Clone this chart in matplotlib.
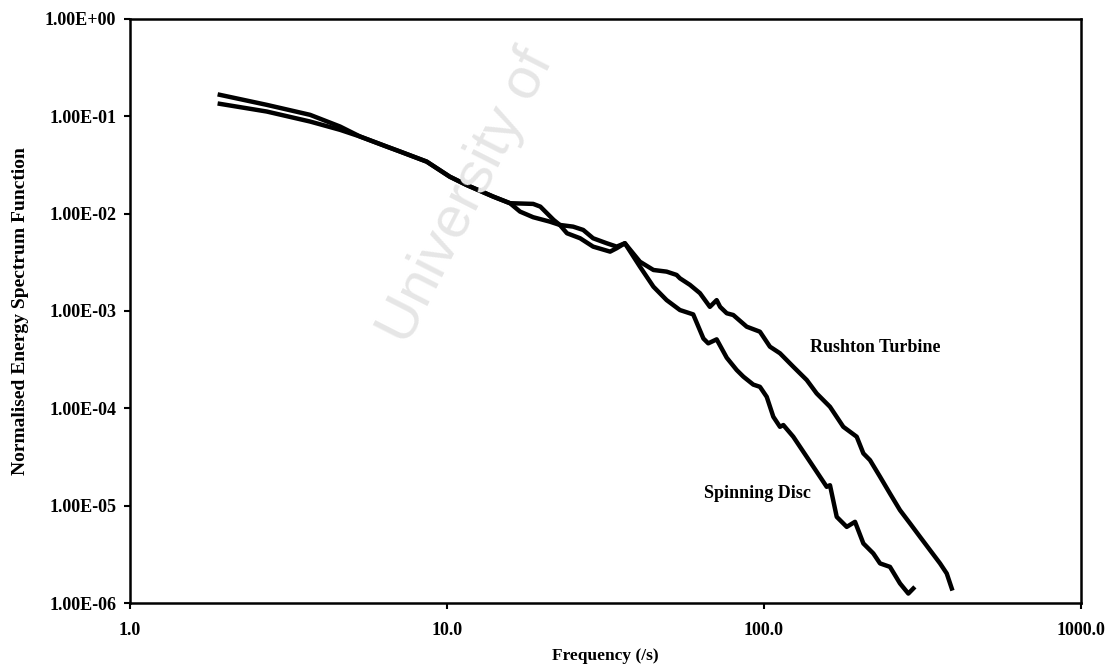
import numpy as np
import matplotlib.pyplot as plt

# values (frequency in 1/s, normalised E)
disc_freq = [1.92, 2.70, 3.70, 4.60, 5.32, 6.45, 7.11, 8.63, 10.2, 11.5, 14.0, 15.8,
             18.7, 19.7, 21.7, 22.7, 25.0, 26.9, 28.9, 31.9, 34.3, 36.4,
             40.6, 44.8, 49.3, 54.3, 59.8, 64.4, 66.7, 70.9, 76.3, 82.0, 86.1,
             92.5, 97.1, 102.0, 107.0, 112.3, 115.1, 123.7, 136.4, 146.6, 157.7,
             161.5, 169.6, 182.4, 193.7, 205.8, 221.2, 232.3, 249.7, 268.5, 285.3,
             295.8]
disc_e = [0.1656, 0.1306, 0.1031, 0.0782, 0.0617, 0.0487, 0.0433, 0.0341, 0.0239,
          0.0197, 0.0149, 0.01276, 0.01255, 0.01177, 0.00859, 0.00763, 0.00733,
          0.00678, 0.00557, 0.00495, 0.00457, 0.00495,
          0.00285, 0.00177, 0.00129, 0.00102, 0.00092, 0.00052, 0.000464,
          0.00051, 0.00033, 0.000247, 0.000211, 0.000175, 0.000166, 0.000131,
          8.18e-5, 6.45e-5, 6.72e-5, 5.10e-5, 3.17e-5, 2.23e-5, 1.56e-5, 1.62e-5,
          7.67e-6, 6.05e-6, 6.82e-6, 4.09e-6, 3.23e-6, 2.55e-6, 2.35e-6, 1.59e-6,
          1.25e-6, 1.41e-6]

rushton_freq = [1.92, 2.70, 3.70, 4.60, 5.32, 6.45, 7.11, 8.63, 10.2, 11.5, 14.0,
                15.8, 17.0, 18.7, 21.1, 22.7, 23.9, 26.3, 28.9, 32.7, 34.3, 36.4,
                40.6, 44.8, 49.3, 53.0, 54.3, 58.4, 62.8, 67.5, 70.9, 72.7, 76.3,
                80.0, 88.2, 97.1, 104.4, 112.3, 123.7, 136.4, 146.6, 161.5, 177.9,
                196.1, 205.8, 216.0, 232.3, 249.7, 268.5, 288.9, 310.6, 334.0,
                359.2, 377.1, 391.1]
rushton_e = [0.1338, 0.1115, 0.0880, 0.0723, 0.0617, 0.0487, 0.0433, 0.0341,
             0.0239, 0.0197, 0.0149, 0.01276, 0.01046, 0.00916, 0.00825, 0.00763,
             0.00627, 0.00557, 0.00457, 0.00406, 0.00440, 0.00495,
             0.00320, 0.00263, 0.00253, 0.00234, 0.00216, 0.00185, 0.00152,
             0.00110, 0.00129, 0.00110, 0.000945, 0.000907, 0.000688, 0.000611,
             0.000429, 0.000367, 0.000267, 0.000195, 0.000142, 0.0001035, 6.45e-5,
             5.10e-5, 3.44e-5, 2.93e-5, 1.98e-5, 1.33e-5, 8.99e-6, 6.56e-6,
             4.78e-6, 3.49e-6, 2.55e-6, 2.01e-6, 1.41e-6]

x_ticks = [1, 10, 100, 1000]
x_tick_labels = ['1.0', '10.0', '100.0', '1000.0']
y_ticks = [1e-6, 1e-5, 1e-4, 1e-3, 1e-2, 1e-1, 1e0]
y_tick_labels = ['1.00E-06', '1.00E-05', '1.00E-04', '1.00E-03', '1.00E-02',
                 '1.00E-01', '1.00E+00']

plt.rcParams['font.family'] = ['Liberation Serif', 'DejaVu Serif']
plt.rcParams['font.weight'] = 'bold'

fig = plt.figure(figsize=(11.11, 6.70), dpi=100)
ax = fig.add_axes([0.117, 0.100, 0.856, 0.872])

# faint repository watermark behind the data
fig.text(0.333, 0.475, 'University of', rotation=63, color='#e6e6e6',
         fontsize=42, family='Liberation Sans', weight='normal',
         ha='left', va='bottom', zorder=0)
ax.patch.set_alpha(0)

ax.plot(disc_freq, disc_e, color='black', lw=3.2, solid_joinstyle='round')
ax.plot(rushton_freq, rushton_e, color='black', lw=3.2, solid_joinstyle='round')

ax.set_xscale('log')
ax.set_yscale('log')
ax.set_xlim(1, 1000)
ax.set_ylim(1e-6, 1)
ax.set_xticks(x_ticks)
ax.set_xticklabels(x_tick_labels)
ax.set_yticks(y_ticks)
ax.set_yticklabels(y_tick_labels)
ax.minorticks_off()
ax.tick_params(axis='both', direction='out', length=4, width=1.5,
               labelsize=13)
ax.tick_params(axis='x', pad=9.5)
ax.tick_params(axis='y', pad=6)
for s in ax.spines.values():
    s.set_linewidth(1.8)

ax.set_xlabel('Frequency (/s)', fontsize=12.5, fontweight='bold', labelpad=7)
ax.set_ylabel('Normalised Energy Spectrum Function', fontsize=14,
              fontweight='bold', labelpad=11)

ax.text(140, 4.2e-4, 'Rushton Turbine', fontsize=13, fontweight='bold',
        va='center', ha='left')
ax.text(64.7, 1.33e-5, 'Spinning Disc', fontsize=13, fontweight='bold',
        va='center', ha='left')

fig.savefig('out.png', dpi=100)
